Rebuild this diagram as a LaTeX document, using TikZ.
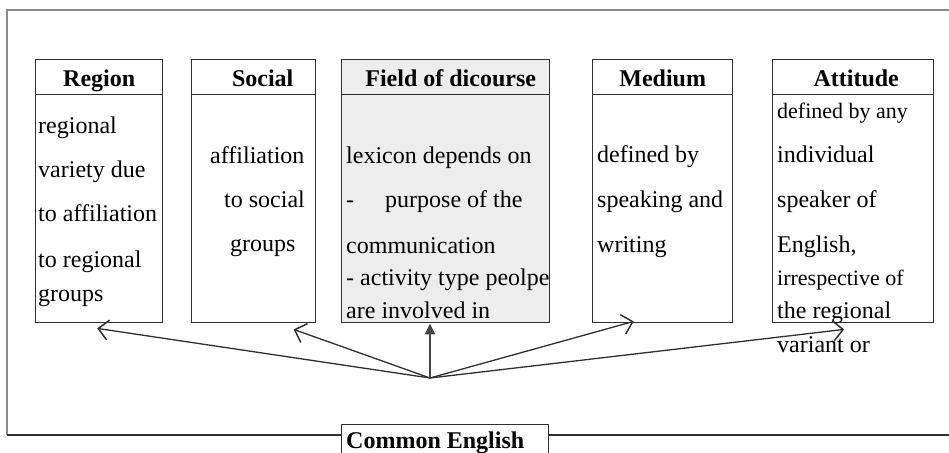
\documentclass[tikz,border=0pt]{standalone}
\usepackage{fontspec}
\setmainfont{Liberation Serif}
\usetikzlibrary{calc,arrows.meta}
\definecolor{linec}{HTML}{303030}
\definecolor{framec}{HTML}{8A8A8A}
\definecolor{fieldfill}{HTML}{EDEDED}
\tikzset{
  box/.style={draw=linec, line width=1.4pt, rectangle, inner sep=0pt, anchor=north west},
  hdr/.style={box, minimum height=35pt, text height=19pt, text depth=0pt, font=\fontsize{24}{24}\selectfont\bfseries},
  body/.style={box, minimum height=228pt},
  txt/.style={inner sep=0pt, anchor=base west, font=\fontsize{24}{24}\selectfont},
  stxt/.style={inner sep=0pt, anchor=base west, font=\fontsize{22}{22}\selectfont},
  conn/.style={draw=linec, line width=1.3pt, -{Straight Barb[length=10pt,width=20pt,line width=1.5pt]}},
  thick conn/.style={draw=linec!90, line width=2.6pt, -{Triangle[length=11pt,width=10pt]}},
}
\begin{document}
\begin{tikzpicture}[x=1pt,y=-1pt]
\useasboundingbox (0,0) rectangle (949,452);
% outer frame
\draw[framec, line width=1.2pt] (7,435) -- (7,10) -- (949,10);
% Common English
\node[box, minimum width=207pt, minimum height=40pt] (ce) at (341,424) {};
\node[txt, font=\fontsize{24}{24}\selectfont\bfseries] (cet) at (346,448) {Common English};
\draw[linec, line width=1.3pt] (7,435) -- (ce.north west |- 0,435);
\draw[linec, line width=1.3pt] (ce.north east |- 0,435) -- (949,435);

% Region
\node[hdr, minimum width=127pt] (regH) at (35,59) {Region};
\node[body, minimum width=127pt] (regB) at (35,94) {};
\node[txt] (r1) at (38,133) {regional};
\node[txt] (r2) at (38,177) {variety due};
\node[txt] (r3) at (38,221) {to affiliation};
\node[txt] (r4) at (38,267) {to regional};
\node[txt] (r5) at (38,301) {groups};

% Social
\node[hdr, minimum width=124pt] (socH) at (191,59) {\hspace*{18pt}Social};
\node[body, minimum width=124pt] (socB) at (191,94) {};
\node[txt] (s1) at (210,163) {affiliation};
\node[txt] (s2) at (224,207) {to social};
\node[txt] (s3) at (230,251) {groups};

% Field of discourse
\node[hdr, minimum width=208pt, fill=fieldfill] (fldH) at (341,59) {\hspace*{10pt}Field of dicourse};
\node[body, minimum width=208pt, fill=fieldfill] (fldB) at (341,94) {};
\node[txt] (f1) at (346,163) {lexicon depends on};
\node[txt] (f2a) at (346,207) {-};
\node[txt] (f2b) at (385,207) {purpose of the};
\node[txt] (f3) at (346,253) {communication};
\node[txt] (f4) at (346,285) {- activity type peolpe};
\node[txt] (f5) at (346,318) {are involved in};

% Medium
\node[hdr, minimum width=140pt] (medH) at (592,59) {Medium};
\node[body, minimum width=140pt] (medB) at (592,94) {};
\node[txt] (m1) at (597,162) {defined by};
\node[txt] (m2) at (597,207) {speaking and};
\node[txt] (m3) at (597,252) {writing};

% Attitude
\node[hdr, minimum width=161pt] (attH) at (772,59) {\hspace*{6pt}Attitude};
\node[body, minimum width=161pt] (attB) at (772,94) {};
\node[stxt] (a1) at (777,118) {defined by any};
\node[txt] (a2) at (777,162) {individual};
\node[txt] (a3) at (777,207) {speaker of};
\node[txt] (a4) at (777,252) {English,};
\node[stxt] (a5) at (777,285) {irrespective of};
\node[txt] (a6) at (777,318) {the regional};
\node[txt] (a7) at (777,352) {variant or};

% connectors
\coordinate (hub) at (430,378);
\draw[conn] (hub) -- ($(regB.south)+(-2,5)$);
\draw[conn] (hub) -- ($(socB.south)+(40,6)$);
\draw[thick conn] (hub) -- (fldB.south -| hub);
\draw[conn] (hub) -- ($(medB.south)+(-29,-2)$);
\draw[conn] (hub) -- ($(attB.south)+(-9,6)$);
\end{tikzpicture}
\end{document}
